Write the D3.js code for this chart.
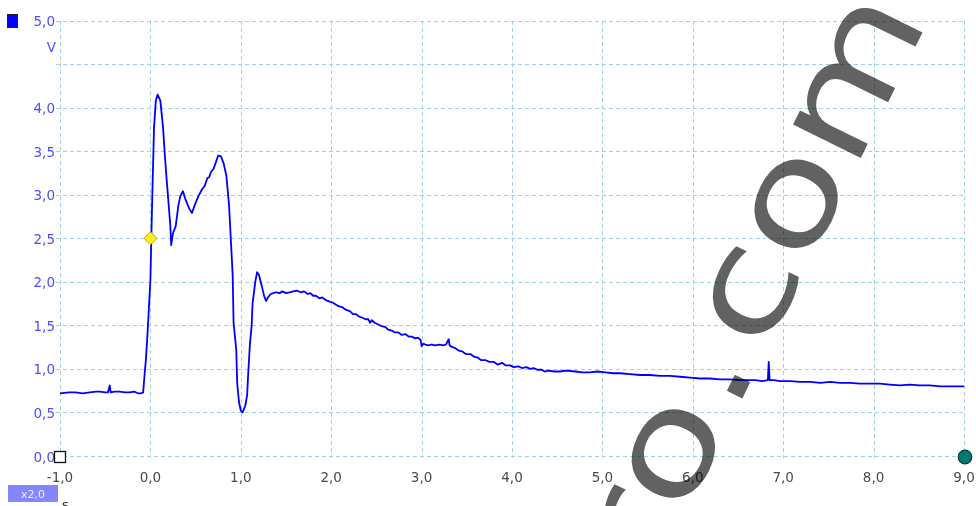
<!DOCTYPE html>
<html>
<head>
<meta charset="utf-8">
<script src="https://cdn.jsdelivr.net/npm/d3@7"></script>
<style>
  html, body { margin: 0; padding: 0; background: #fff; }
  svg { display: block; }
</style>
</head>
<body>
<svg id="chart" width="976" height="506"></svg>
<script>
// Channel A trace: time (s) and voltage (V)
const time = [
  -1.00, -0.90, -0.83, -0.75, -0.67, -0.60, -0.56, -0.50, -0.47, -0.45,
  -0.44, -0.40, -0.34, -0.28, -0.23, -0.18, -0.14, -0.10, -0.08, -0.06,
  -0.05, -0.03, 0.00, 0.01, 0.02, 0.04, 0.06, 0.08, 0.11, 0.14,
  0.16, 0.18, 0.22, 0.23, 0.25, 0.28, 0.31, 0.33, 0.36, 0.39,
  0.43, 0.46, 0.49, 0.53, 0.57, 0.60, 0.63, 0.65, 0.67, 0.70,
  0.72, 0.75, 0.78, 0.81, 0.84, 0.87, 0.89, 0.91, 0.92, 0.95,
  0.96, 0.98, 1.00, 1.02, 1.05, 1.07, 1.08, 1.10, 1.12, 1.13,
  1.16, 1.18, 1.20, 1.23, 1.26, 1.28, 1.30, 1.33, 1.36, 1.39,
  1.43, 1.46, 1.50, 1.54, 1.58, 1.62, 1.66, 1.70, 1.74, 1.77,
  1.80, 1.83, 1.87, 1.90, 1.94, 1.99, 2.02, 2.05, 2.08, 2.12,
  2.16, 2.21, 2.24, 2.27, 2.31, 2.34, 2.38, 2.41, 2.43, 2.45,
  2.48, 2.52, 2.56, 2.60, 2.63, 2.67, 2.70, 2.74, 2.78, 2.82,
  2.86, 2.89, 2.93, 2.96, 2.99, 3.00, 3.02, 3.04, 3.08, 3.11,
  3.15, 3.20, 3.24, 3.27, 3.30, 3.31, 3.34, 3.37, 3.41, 3.45,
  3.49, 3.54, 3.58, 3.62, 3.66, 3.71, 3.75, 3.80, 3.84, 3.89,
  3.93, 3.98, 4.02, 4.07, 4.11, 4.16, 4.20, 4.24, 4.28, 4.33,
  4.36, 4.40, 4.47, 4.53, 4.60, 4.70, 4.78, 4.86, 4.95, 5.03,
  5.12, 5.20, 5.30, 5.42, 5.52, 5.64, 5.75, 5.86, 5.97, 6.08,
  6.19, 6.30, 6.41, 6.52, 6.60, 6.69, 6.77, 6.83, 6.84, 6.85,
  6.90, 6.96, 7.08, 7.19, 7.30, 7.41, 7.52, 7.63, 7.74, 7.85,
  7.96, 8.07, 8.18, 8.29, 8.40, 8.51, 8.62, 8.74, 8.87, 9.00
];
const volts = [
  0.72, 0.73, 0.73, 0.72, 0.73, 0.74, 0.74, 0.73, 0.73, 0.81,
  0.73, 0.74, 0.74, 0.73, 0.73, 0.74, 0.72, 0.72, 0.73, 0.99,
  1.10, 1.44, 2.02, 2.49, 2.94, 3.77, 4.08, 4.15, 4.08, 3.77,
  3.45, 3.17, 2.65, 2.42, 2.56, 2.64, 2.88, 2.98, 3.04, 2.94,
  2.84, 2.79, 2.88, 2.98, 3.06, 3.10, 3.19, 3.20, 3.26, 3.30,
  3.36, 3.45, 3.44, 3.36, 3.22, 2.88, 2.48, 2.08, 1.53, 1.22,
  0.84, 0.62, 0.52, 0.50, 0.58, 0.70, 0.91, 1.27, 1.50, 1.75,
  2.00, 2.11, 2.08, 1.96, 1.83, 1.78, 1.82, 1.86, 1.87, 1.88,
  1.87, 1.89, 1.87, 1.88, 1.89, 1.90, 1.88, 1.89, 1.86, 1.87,
  1.84, 1.84, 1.81, 1.82, 1.79, 1.77, 1.76, 1.74, 1.72, 1.71,
  1.68, 1.66, 1.63, 1.63, 1.60, 1.59, 1.57, 1.57, 1.53, 1.56,
  1.53, 1.51, 1.49, 1.48, 1.45, 1.44, 1.42, 1.42, 1.39, 1.40,
  1.37, 1.37, 1.35, 1.36, 1.33, 1.26, 1.29, 1.28, 1.27, 1.28,
  1.27, 1.28, 1.27, 1.28, 1.34, 1.27, 1.25, 1.24, 1.21, 1.20,
  1.17, 1.17, 1.14, 1.13, 1.10, 1.10, 1.08, 1.08, 1.05, 1.07,
  1.04, 1.04, 1.02, 1.03, 1.01, 1.02, 1.00, 1.01, 0.99, 0.99,
  0.97, 0.98, 0.97, 0.97, 0.98, 0.97, 0.96, 0.96, 0.97, 0.96,
  0.95, 0.95, 0.94, 0.93, 0.93, 0.92, 0.92, 0.91, 0.90, 0.89,
  0.89, 0.88, 0.88, 0.87, 0.87, 0.87, 0.86, 0.87, 1.08, 0.87,
  0.87, 0.86, 0.86, 0.85, 0.85, 0.84, 0.85, 0.84, 0.84, 0.83,
  0.83, 0.83, 0.82, 0.81, 0.82, 0.81, 0.81, 0.80, 0.80, 0.80
];

// Axis ticks
const xTicks = [-1, 0, 1, 2, 3, 4, 5, 6, 7, 8, 9];
const yGrid = [0, 0.5, 1, 1.5, 2, 2.5, 3, 3.5, 4, 4.5, 5];
const yLabels = [0, 0.5, 1, 1.5, 2, 2.5, 3, 3.5, 4, 5];
const yUnit = "V";
const xUnit = "s";
const zoomBadge = "x2,0";

// Rulers and trigger
const trigger = [{ t: 0, v: 2.5 }];
const originMarker = [{ t: -1, v: 0 }];
const endMarker = [{ t: 9, v: 0 }];

const svg = d3.select("#chart");
const W = 976, H = 506;
const x = d3.scaleLinear().domain([-1, 9]).range([60, 964]);
const y = d3.scaleLinear().domain([0, 5]).range([456, 20.5]);

const loc = d3.formatLocale({ decimal: ",", thousands: ".", grouping: [3], currency: ["", ""], minus: "-" });
const fmt = loc.format(".1f");

svg.append("rect").attr("width", W).attr("height", H).attr("fill", "#fff");

// Grid
const gridColor = "#9fd3e3";
const grid = svg.append("g").attr("stroke", gridColor).attr("stroke-width", 1)
  .attr("stroke-dasharray", "4,3").attr("shape-rendering", "crispEdges");
grid.selectAll("line.h").data(yGrid).join("line")
  .attr("x1", x(-1) - 4).attr("x2", x(9))
  .attr("y1", d => Math.round(y(d)) + 0.5).attr("y2", d => Math.round(y(d)) + 0.5);
grid.selectAll("line.v").data(xTicks).join("line")
  .attr("x1", d => Math.round(x(d)) + 0.5).attr("x2", d => Math.round(x(d)) + 0.5)
  .attr("y1", y(5)).attr("y2", y(0) + 2);

// Y axis labels
const yAxis = svg.append("g").attr("font-family", "DejaVu Sans, Verdana, sans-serif")
  .attr("font-size", 13.5).attr("fill", "#4d4dff").attr("text-anchor", "end");
yAxis.selectAll("text").data(yLabels).join("text")
  .attr("x", 55).attr("y", d => y(d) + 5.5)
  .text(d => fmt(d));
yAxis.append("text").attr("x", 56).attr("y", 52).text(yUnit);

// X axis labels
const xAxis = svg.append("g").attr("font-family", "DejaVu Sans, Verdana, sans-serif")
  .attr("font-size", 13.5).attr("fill", "#52483f").attr("text-anchor", "middle");
xAxis.selectAll("text").data(xTicks).join("text")
  .attr("x", d => x(d)).attr("y", 482)
  .text(d => fmt(d));

// Trace
const pts = time.map((t, i) => [t, volts[i]]);
svg.append("path").datum(pts)
  .attr("fill", "none").attr("stroke", "#0000ff").attr("stroke-width", 1.8)
  .attr("stroke-linejoin", "round")
  .attr("d", d3.line().x(d => x(d[0])).y(d => y(d[1])).curve(d3.curveLinear));

// Watermark text
const wm = svg.append("g").style("mix-blend-mode", "multiply");
const wmText = wm.append("text")
  .attr("transform", "translate(683,519) rotate(-63.8) scale(1.27,1)")
  .attr("font-family", "DejaVu Sans, Verdana, sans-serif")
  .attr("font-size", 138).attr("fill", "#626262")
  .attr("x", -56);
[["r", 0], ["o", 0], [".", 6], ["c", 9], ["o", 0], ["m", 0]].forEach(([ch, dx]) => {
  wmText.append("tspan").attr("dx", dx).text(ch);
});

// Trigger marker (diamond)
svg.append("g").selectAll("path").data(trigger).join("path")
  .attr("transform", d => `translate(${x(d.t)},${y(d.v)})`)
  .attr("d", "M0,-6.5L6.5,0L0,6.5L-6.5,0Z")
  .attr("fill", "#ffee22").attr("stroke", "#b8a800").attr("stroke-width", 1);

// Origin marker (square)
svg.append("g").selectAll("rect").data(originMarker).join("rect")
  .attr("x", d => x(d.t) - 5.5).attr("y", d => y(d.v) - 4.5)
  .attr("width", 11).attr("height", 11)
  .attr("fill", "#fff").attr("stroke", "#111").attr("stroke-width", 1.3);

// End ruler marker (circle)
svg.append("g").selectAll("circle").data(endMarker).join("circle")
  .attr("cx", d => x(d.t) + 1).attr("cy", d => y(d.v) + 1).attr("r", 6.8)
  .attr("fill", "#007a70").attr("stroke", "#0a3a36").attr("stroke-width", 1.2);

// Channel swatch
svg.append("rect").attr("x", 7.5).attr("y", 14.5).attr("width", 10).attr("height", 13)
  .attr("fill", "#0000ff").attr("stroke", "#222").attr("stroke-width", 1);

// Zoom badge
svg.append("rect").attr("x", 8).attr("y", 485).attr("width", 50).attr("height", 17)
  .attr("fill", "#8585ff");
svg.append("text").attr("x", 33).attr("y", 498).attr("text-anchor", "middle")
  .attr("font-family", "DejaVu Sans, Verdana, sans-serif").attr("font-size", 11)
  .attr("fill", "#ececff").text(zoomBadge);

// X unit
svg.append("text").attr("x", 62).attr("y", 509)
  .attr("font-family", "DejaVu Sans, Verdana, sans-serif").attr("font-size", 13)
  .attr("fill", "#333").text(xUnit);
</script>
</body>
</html>
